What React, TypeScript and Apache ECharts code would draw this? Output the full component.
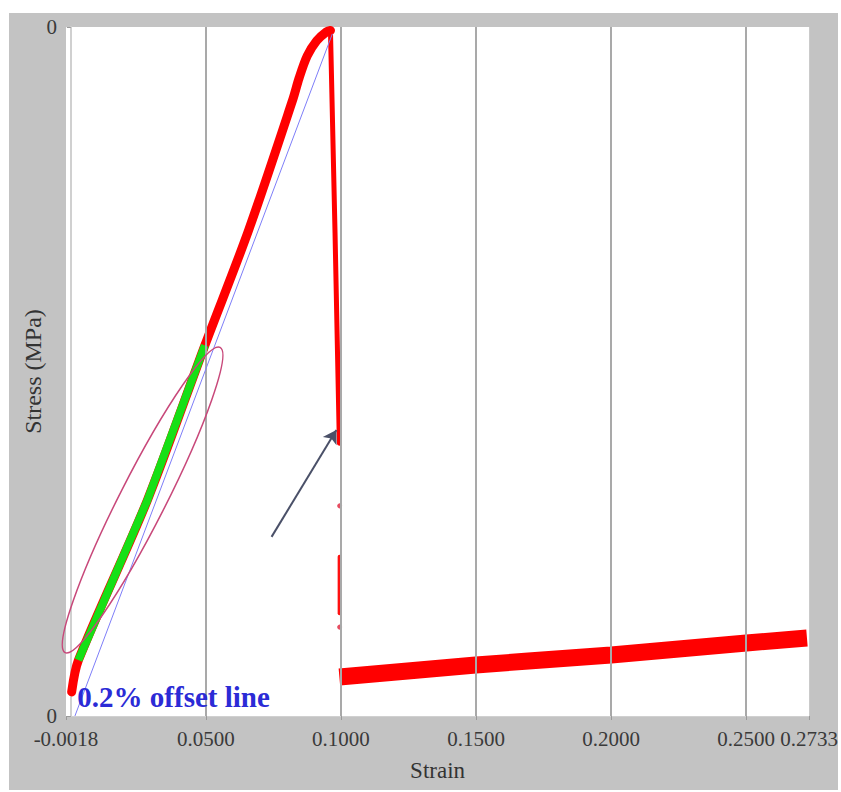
import React, { useEffect, useRef } from "react";
import * as echarts from "echarts";

// ---- data (strain, normalized stress) ----
const xTickValues = [-0.0018, 0.05, 0.1, 0.15, 0.2, 0.25, 0.2733];
const gridStrains = [0.05, 0.1, 0.15, 0.2, 0.25];
const yTickLabels = ["0", "0"];

const riseStrain = [0.0003, 0.0028, 0.0283, 0.0496, 0.0658, 0.0821, 0.0845, 0.0875, 0.0910, 0.0946, 0.0961];
const riseStress = [3.5, 8.1, 31.3, 53.8, 70.5, 89.4, 92.6, 95.8, 98.0, 99.3, 99.5];

const greenStrain = [0.0028, 0.0283, 0.0496];
const greenStress = [8.1, 31.3, 53.8];

const dropStrain = [0.0961, 0.0978, 0.0994];
const dropStress = [99.5, 70.0, 39.6];

const fragStrain = [0.0995, 0.0995];
const fragStress = [23.1, 14.9];

const dotStrain = [0.0995, 0.0995];
const dotStress = [30.5, 12.9];

const bandStrain = [0.0994, 0.1289, 0.1499, 0.1694, 0.2, 0.2501, 0.2725];
const bandStress = [5.66, 6.68, 7.4, 7.98, 8.85, 10.6, 11.32];

const offsetStrain = [0.0015, 0.0968];
const offsetStress = [0, 99];

const arrowFrom = [0.0743, 26.0];
const arrowTo = [0.0983, 41.5];

const ellipseEndA = [0.0547, 53.1];
const ellipseEndB = [-0.0016, 9.6];

const offsetLabelAt = [0.0024, 2.7];
const offsetLabelText = "0.2% offset line";

const zip = (xs: number[], ys: number[]) => xs.map((x, i) => [x, ys[i]]);

const FONT = "Liberation Serif";

export default function App() {
  const ref = useRef<HTMLDivElement>(null);
  useEffect(() => {
    if (!ref.current) return;
    const chart = echarts.init(ref.current, undefined, { renderer: "svg" });
    chart.setOption({
      animation: false,
      backgroundColor: "transparent",
      grid: {
        left: 66,
        right: 29,
        top: 27,
        bottom: 76,
        show: true,
        backgroundColor: "#ffffff",
        borderWidth: 0,
      },
      xAxis: {
        type: "value",
        min: -0.0018,
        max: 0.2733,
        name: "Strain",
        nameLocation: "middle",
        nameGap: 43,
        nameMoveOverlap: false,
        nameTextStyle: { fontFamily: FONT, fontSize: 23, color: "#333" },
        axisLine: { show: true, lineStyle: { color: "#d0d0d0", width: 1 } },
        axisTick: {
          show: true,
          customValues: xTickValues,
          length: 4,
          lineStyle: { color: "#9a9a9a" },
        },
        axisLabel: {
          customValues: xTickValues,
          formatter: (v: number) => v.toFixed(4),
          fontFamily: FONT,
          fontSize: 21,
          color: "#3a3a3a",
          margin: 12,
          showMinLabel: true,
          showMaxLabel: true,
        },
        splitLine: { show: false },
      },
      yAxis: {
        type: "value",
        min: 0,
        max: 100,
        interval: 100,
        name: "Stress (MPa)",
        nameLocation: "middle",
        nameGap: 21,
        nameMoveOverlap: false,
        nameTextStyle: { fontFamily: FONT, fontSize: 24, color: "#333" },
        axisLine: { show: true, lineStyle: { color: "#d0d0d0", width: 2 } },
        axisTick: { show: true, length: 4, lineStyle: { color: "#9a9a9a" } },
        axisLabel: {
          formatter: (_v: number, i: number) => yTickLabels[i] ?? "0",
          fontFamily: FONT,
          fontSize: 21,
          lineHeight: 14,
          color: "#3a3a3a",
          margin: 9,
        },
        splitLine: { show: false },
      },
      series: [
        {
          type: "line",
          data: [],
          z: 1,
          silent: true,
          markLine: {
            silent: true,
            symbol: "none",
            label: { show: false },
            lineStyle: { color: "#a9a9a9", width: 2, type: "solid" },
            data: gridStrains.map((v) => ({ xAxis: v })),
          },
        },
        {
          type: "line",
          data: zip(bandStrain, bandStress),
          symbol: "none",
          z: 3,
          lineStyle: { color: "#ff0000", width: 17, cap: "butt" },
        },
        {
          type: "line",
          data: zip(riseStrain, riseStress),
          symbol: "none",
          smooth: 0.3,
          z: 3,
          clip: false,
          lineStyle: { color: "#ff0000", width: 9, cap: "round", join: "round" },
        },
        {
          type: "line",
          data: zip(dropStrain, dropStress),
          symbol: "none",
          z: 3,
          clip: false,
          lineStyle: { color: "#ff0000", width: 5, cap: "round" },
        },
        {
          type: "line",
          data: zip(fragStrain, fragStress),
          symbol: "none",
          z: 3,
          lineStyle: { color: "#ff1010", width: 4, cap: "round" },
        },
        {
          type: "scatter",
          data: zip(dotStrain, dotStress),
          symbolSize: 5,
          z: 3,
          itemStyle: { color: "#e0203a" },
        },
        {
          type: "line",
          data: zip(greenStrain, greenStress),
          symbol: "none",
          z: 4,
          lineStyle: { color: "#16e016", width: 8, cap: "butt" },
        },
        {
          type: "line",
          data: zip(offsetStrain, offsetStress),
          symbol: "none",
          z: 5,
          lineStyle: { color: "#7e7ef8", width: 1 },
        },
        {
          type: "line",
          data: [],
          z: 6,
          markLine: {
            silent: true,
            symbol: ["none", "arrow"],
            symbolSize: [12, 13],
            label: { show: false },
            lineStyle: { color: "#4a5068", width: 2, type: "solid" },
            data: [[{ coord: arrowFrom }, { coord: arrowTo }]],
          },
        },
      ],
    });

    const a = chart.convertToPixel({ gridIndex: 0 }, ellipseEndA) as number[];
    const b = chart.convertToPixel({ gridIndex: 0 }, ellipseEndB) as number[];
    const cx = (a[0] + b[0]) / 2;
    const cy = (a[1] + b[1]) / 2;
    const dx = a[0] - b[0];
    const dy = a[1] - b[1];
    const half = Math.hypot(dx, dy) / 2;
    const rot = Math.atan2(-dy, dx);
    const t = chart.convertToPixel({ gridIndex: 0 }, offsetLabelAt) as number[];

    chart.setOption({
      graphic: [
        {
          type: "ellipse",
          x: cx,
          y: cy,
          rotation: rot,
          shape: { cx: 0, cy: 0, rx: half + 3, ry: 23 },
          style: { fill: "rgba(0,0,0,0)", stroke: "#c8487a", lineWidth: 1.5 },
          z: 100,
        },
        {
          type: "text",
          x: t[0],
          y: t[1],
          style: {
            text: offsetLabelText,
            fontFamily: FONT,
            fontWeight: "bold",
            fontSize: 29,
            fill: "#2b2bd6",
            textAlign: "left",
            textVerticalAlign: "middle",
          },
          z: 100,
        },
      ],
    });

    return () => chart.dispose();
  }, []);

  return (
    <div style={{ position: "fixed", left: 0, top: 0, width: 841, height: 792, background: "#ffffff" }}>
      <div style={{ position: "absolute", left: 9, top: 13, width: 829, height: 777, background: "#c3c3c3" }} />
      <div ref={ref} style={{ position: "absolute", left: 0, top: 0, width: 841, height: 792 }} />
    </div>
  );
}
